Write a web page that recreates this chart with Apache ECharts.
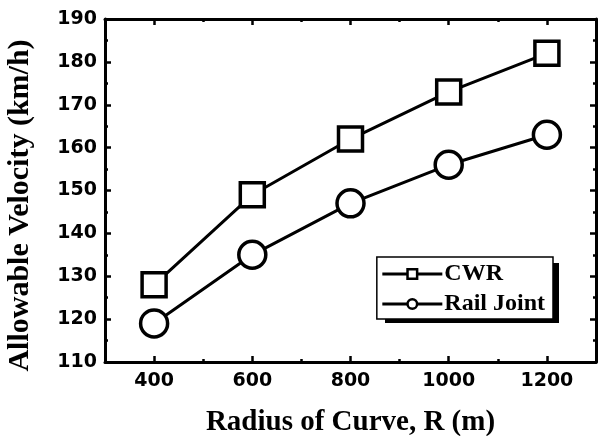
<!DOCTYPE html>
<html>
<head>
<meta charset="utf-8">
<script src="https://cdn.jsdelivr.net/npm/echarts@6/dist/echarts.min.js"></script>
<style>
  html, body { margin: 0; padding: 0; background: #fff; }
  #chart { width: 598px; height: 436px; }
</style>
</head>
<body>
<div id="chart"></div>
<script>
const radius = [400, 600, 800, 1000, 1200];
const cwr = [128, 149, 162, 173, 182];
const railJoint = [119, 135, 147, 156, 163];

const tickFont = { color: "#000", fontFamily: "DejaVu Sans", fontWeight: "bold", fontSize: 19 };
const titleFont = { color: "#000", fontFamily: "Liberation Serif", fontWeight: "bold", fontSize: 29 };

function frameAxis(extra) {
  return Object.assign({
    axisLine: { show: true, onZero: false, lineStyle: { color: "#000", width: 3 } },
    axisTick: { show: true, inside: true, length: 6, lineStyle: { color: "#000", width: 2.5 } },
    minorTick: { show: true, splitNumber: 2, length: 3, lineStyle: { color: "#000", width: 2.5 } },
    splitLine: { show: false },
    axisLabel: { show: false }
  }, extra);
}

const chart = echarts.init(document.getElementById("chart"));
chart.setOption({
  animation: false,
  backgroundColor: "#fff",
  grid: { left: 105, right: 2, top: 19, bottom: 74, outerBoundsMode: "none" },
  // legend drop shadow
  graphic: [{
    type: "rect",
    z: 1,
    shape: { x: 385, y: 263, width: 174, height: 60 },
    style: { fill: "#000" }
  }],
  legend: {
    right: 45,
    top: 257,
    orient: "vertical",
    itemWidth: 60,
    itemHeight: 12,
    itemGap: 6,
    padding: [5, 8, 3, 4],
    backgroundColor: "#fff",
    borderColor: "#000",
    borderWidth: 1.5,
    borderRadius: 0,
    lineStyle: { width: 3 },
    itemStyle: { borderWidth: 2.5 },
    textStyle: { color: "#000", fontFamily: "Liberation Serif", fontWeight: "bold", fontSize: 24, padding: [0, 0, 0, -3] },
    data: ["CWR", "Rail Joint"]
  },
  xAxis: [
    frameAxis({
      type: "value",
      position: "bottom",
      min: 300,
      max: 1300,
      name: "Radius of Curve, R (m)",
      nameLocation: "middle",
      nameGap: 46,
      nameTextStyle: titleFont,
      axisLabel: Object.assign({
        show: true, margin: 10, showMinLabel: false, showMaxLabel: false,
        formatter: v => String(v)
      }, tickFont)
    }),
    frameAxis({ type: "value", position: "top", min: 300, max: 1300 })
  ],
  yAxis: [
    frameAxis({
      type: "value",
      position: "left",
      min: 110,
      max: 190,
      interval: 10,
      name: "Allowable Velocity (km/h)",
      nameLocation: "middle",
      nameGap: 70,
      nameTextStyle: Object.assign({}, titleFont, { fontSize: 30, padding: [0, 30, 0, 0] }),
      axisLabel: Object.assign({ show: true, margin: 8 }, tickFont)
    }),
    frameAxis({ type: "value", position: "right", min: 110, max: 190, interval: 10 })
  ],
  series: [
    {
      name: "CWR",
      type: "line",
      data: radius.map((r, i) => [r, cwr[i]]),
      symbol: "rect",
      symbolSize: 24,
      lineStyle: { color: "#000", width: 3 },
      itemStyle: { color: "#fff", borderColor: "#000", borderWidth: 3.5 }
    },
    {
      name: "Rail Joint",
      type: "line",
      data: radius.map((r, i) => [r, railJoint[i]]),
      symbol: "circle",
      symbolSize: 27,
      lineStyle: { color: "#000", width: 3 },
      itemStyle: { color: "#fff", borderColor: "#000", borderWidth: 3.5 }
    }
  ]
});
</script>
</body>
</html>
